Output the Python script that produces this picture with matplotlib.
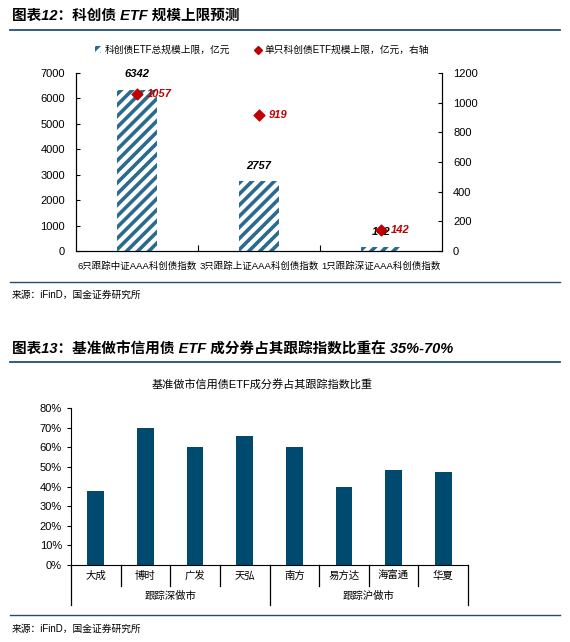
import matplotlib
matplotlib.use("Agg")
import matplotlib.pyplot as plt
import matplotlib.transforms as mtransforms
from matplotlib.patches import Patch
from matplotlib.lines import Line2D
import numpy as np

plt.rcParams['font.family'] = ['Liberation Sans', 'Noto Sans CJK SC']
plt.rcParams['hatch.linewidth'] = 2.6

# chart 1 data
cats1 = ['6只跟踪中证AAA科创债指数', '3只跟踪上证AAA科创债指数', '1只跟踪深证AAA科创债指数']
total_cap = [6342, 2757, 142]
single_cap = [1057, 919, 142]

# chart 2 data
funds = ['大成', '博时', '广发', '天弘', '南方', '易方达', '海富通', '华夏']
groups = ['跟踪深做市', '跟踪沪做市']
share = [37.5, 70.0, 60.0, 65.5, 60.0, 40.0, 48.3, 47.3]

W, H = 570, 642
navy = '#004a70'
stripe = '#2b6b8e'
red = '#c00000'

fig = plt.figure(figsize=(W / 100, H / 100), dpi=100)


def fx(px):
  return px / W


def fy(py):
  return 1 - py / H


def header(text, y_text, y_line):
  fig.text(fx(12), fy(y_text), text, fontsize=10.5, fontweight='bold',
           fontstyle='italic', va='center', ha='left')
  fig.add_artist(Line2D([fx(10), fx(560)], [fy(y_line), fy(y_line)],
                        color='#1f4e79', lw=1.3))


def footer(y_line, y_text):
  fig.add_artist(Line2D([fx(10), fx(560)], [fy(y_line), fy(y_line)],
                        color='#1f4e79', lw=1.0))
  fig.text(fx(12), fy(y_text), '来源：iFinD，国金证券研究所', fontsize=7,
           va='center', ha='left')


""" Chart 1 """
header('图表12：科创债 ETF 规模上限预测', 16, 30)

ax1 = fig.add_axes([fx(76), fy(251), fx(366), 178 / H])
x1 = np.arange(len(cats1))
bars = ax1.bar(x1, total_cap, width=0.32, color='white', edgecolor=stripe,
               linewidth=0, hatch='///', zorder=2)
ax1.set_xlim(-0.5, 2.5)
ax1.set_ylim(0, 7000)
ax1.set_yticks(np.arange(0, 7001, 1000))
ax1.set_xticks([0.5, 1.5])
ax1.set_xticklabels([])
ax1.tick_params(axis='x', direction='in', length=4, width=0.8)
ax1.tick_params(axis='y', direction='in', length=3, width=0.8, labelsize=8, pad=8)
for i, c in enumerate(cats1):
  ax1.text(i, -0.06, c, transform=ax1.get_xaxis_transform(), ha='center',
           va='top', fontsize=6.8)
ax1.spines['top'].set_visible(False)
for b, v in zip(bars, total_cap):
  ax1.annotate(str(v), (b.get_x() + b.get_width() / 2, v), xytext=(0, 11),
               textcoords='offset points', ha='center', va='center',
               fontsize=8, fontweight='bold', fontstyle='italic', color='black')

ax1r = ax1.twinx()
ax1r.scatter(x1, single_cap, marker='D', s=30, color=red, zorder=3)
ax1r.set_ylim(0, 1200)
ax1r.set_yticks(np.arange(0, 1201, 200))
ax1r.tick_params(axis='y', direction='in', length=3, width=0.8, labelsize=8, pad=8)
ax1r.spines['top'].set_visible(False)
for i, v in enumerate(single_cap):
  ax1r.annotate(str(v), (i, v), xytext=(7, 0), textcoords='offset points',
                ha='left', va='center', fontsize=8, fontweight='bold',
                fontstyle='italic', color=red)

h1 = Patch(facecolor='white', edgecolor=stripe, linewidth=0, hatch='///')
h2 = Line2D([], [], marker='D', color=red, lw=0, markersize=4)
fig.legend([h1, h2], ['科创债ETF总规模上限，亿元', '单只科创债ETF规模上限，亿元，右轴'],
           loc='center', bbox_to_anchor=(fx(262), fy(50)), ncol=2, frameon=False,
           fontsize=7, handlelength=0.6, handleheight=0.6, columnspacing=2.5,
           handletextpad=0.4)

footer(282, 295)


""" Chart 2 """
header('图表13：基准做市信用债 ETF 成分券占其跟踪指数比重在 35%-70%', 350, 362)

fig.text(fx(262), fy(384), '基准做市信用债ETF成分券占其跟踪指数比重', fontsize=8,
         ha='center', va='center')

ax2 = fig.add_axes([fx(71), fy(565), fx(397), 157 / H])
x2 = np.arange(len(funds))
ax2.bar(x2, share, width=0.34, color=navy, zorder=2)
ax2.set_xlim(-0.5, len(funds) - 0.5)
ax2.set_ylim(0, 80)
ax2.set_yticks(np.arange(0, 81, 10))
ax2.set_yticklabels(['{:d}%'.format(v) for v in range(0, 81, 10)])
ax2.tick_params(axis='y', direction='out', length=3, width=0.8, labelsize=8)
ax2.set_xticks([])
for sp in ['top', 'right']:
  ax2.spines[sp].set_visible(False)

trans = mtransforms.blended_transform_factory(ax2.transData, ax2.transAxes)
short_len = 21 / 157
long_len = 40 / 157
for k in range(len(funds) + 1):
  xb = k - 0.5
  ln = long_len if k % 4 == 0 else short_len
  ax2.plot([xb, xb], [0, -ln], color='black', lw=0.9, transform=trans,
           clip_on=False)
for i, f in enumerate(funds):
  ax2.text(i, -0.5 * short_len, f, transform=trans, ha='center', va='center',
           fontsize=7.5)
for g, name in enumerate(groups):
  ax2.text(g * 4 + 1.5, -(short_len + long_len) / 2, name, transform=trans,
           ha='center', va='center', fontsize=7.5)

footer(615, 629)

fig.savefig('out.png', dpi=100)
